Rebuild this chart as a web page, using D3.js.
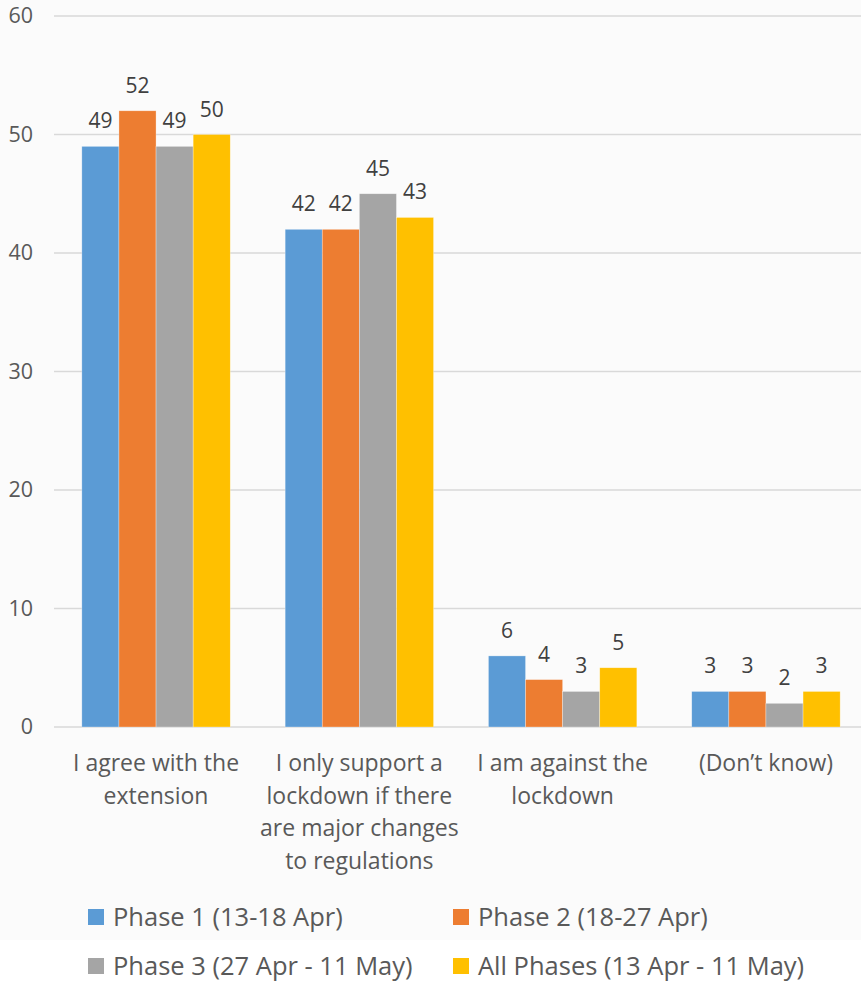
<!DOCTYPE html>
<html>
<head>
<meta charset="utf-8">
<script src="https://cdn.jsdelivr.net/npm/d3@7"></script>
<style>
  html, body { margin: 0; padding: 0; background: #ffffff; }
  svg { display: block; font-family: "Open Sans", sans-serif; }
</style>
</head>
<body>
<svg id="chart" width="861" height="983"></svg>
<script>
// Survey responses by phase (percent)
const categories = [
  ["I agree with the", "extension"],
  ["I only support a", "lockdown if there", "are major changes", "to regulations"],
  ["I am against the", "lockdown"],
  ["(Don\u2019t know)"]
];
const seriesNames = [
  "Phase 1 (13-18 Apr)",
  "Phase 2 (18-27 Apr)",
  "Phase 3 (27 Apr - 11 May)",
  "All Phases (13 Apr - 11 May)"
];
const phase1 = [49, 42, 6, 3];
const phase2 = [52, 42, 4, 3];
const phase3 = [49, 45, 3, 2];
const allPhases = [50, 43, 5, 3];
const yTicks = [0, 10, 20, 30, 40, 50, 60];
const colors = ["#5b9bd5", "#ed7d31", "#a5a5a5", "#ffc000"];

const seriesValues = [phase1, phase2, phase3, allPhases];
const textColor = "#595959";

const svg = d3.select("#chart");

// Light chart-area background above the legend's second row
svg.append("rect").attr("x", 0).attr("y", 0).attr("width", 861).attr("height", 940)
  .attr("fill", "#fbfbfb");

const catIdx = categories.map((d, i) => i);
const x0 = d3.scaleBand().domain(catIdx).range([54.4, 867.6])
  .paddingInner(0.27).paddingOuter(0.135);
const x1 = d3.scaleBand().domain(d3.range(seriesNames.length)).range([0, x0.bandwidth()]);
const y = d3.scaleLinear().domain([0, 60]).range([727, 16]);

// Gridlines
svg.append("g").selectAll("line").data(yTicks).join("line")
  .attr("x1", 54).attr("x2", 861)
  .attr("y1", d => y(d)).attr("y2", d => y(d))
  .attr("stroke", "#d9d9d9").attr("stroke-width", 1.3);

// Y axis labels
const yAxis = d3.axisLeft(y).tickValues(yTicks).tickSize(0).tickPadding(0);
const gy = svg.append("g").attr("transform", "translate(33,0)").call(yAxis);
gy.select(".domain").remove();
gy.selectAll("text").attr("fill", textColor).style("font-size", "21.5px")
  .style("font-family", "'Open Sans', sans-serif");

// Bars
const groups = svg.append("g").selectAll("g").data(catIdx).join("g")
  .attr("transform", i => `translate(${x0(i)},0)`);

groups.selectAll("rect")
  .data(i => seriesValues.map((vals, s) => ({ s, v: vals[i] })))
  .join("rect")
  .attr("x", d => x1(d.s))
  .attr("width", x1.bandwidth())
  .attr("y", d => y(d.v))
  .attr("height", d => y(0) - y(d.v))
  .attr("fill", d => colors[d.s])
  .attr("stroke", "#ffffff").attr("stroke-opacity", 0.5).attr("stroke-width", 0.6);

// Value labels
groups.selectAll("text.val")
  .data(i => seriesValues.map((vals, s) => ({ s, v: vals[i] })))
  .join("text").attr("class", "val")
  .attr("x", d => x1(d.s) + x1.bandwidth() / 2)
  .attr("y", d => y(d.v) - 18)
  .attr("text-anchor", "middle")
  .attr("fill", "#404040")
  .style("font-size", "21px")
  .text(d => d.v);

// Category labels
const catLabels = svg.append("g").selectAll("text").data(catIdx).join("text")
  .attr("x", i => x0(i) + x0.bandwidth() / 2)
  .attr("y", 771)
  .attr("text-anchor", "middle")
  .attr("fill", textColor)
  .style("font-size", "23px");
catLabels.selectAll("tspan").data(i => categories[i]).join("tspan")
  .attr("x", function () { return d3.select(this.parentNode).attr("x"); })
  .attr("dy", (d, j) => j === 0 ? 0 : 32.5)
  .text(d => d);

// Legend
const legendPos = [[88, 917], [453, 917], [88, 966], [453, 966]];
const legend = svg.append("g").selectAll("g").data(seriesNames).join("g")
  .attr("transform", (d, i) => `translate(${legendPos[i][0]},${legendPos[i][1]})`);
legend.append("rect").attr("x", 0).attr("y", -8).attr("width", 16).attr("height", 16)
  .attr("fill", (d, i) => colors[i]);
legend.append("text").attr("x", 25).attr("y", 9)
  .attr("fill", textColor).style("font-size", "25.5px")
  .text(d => d);
</script>
</body>
</html>
